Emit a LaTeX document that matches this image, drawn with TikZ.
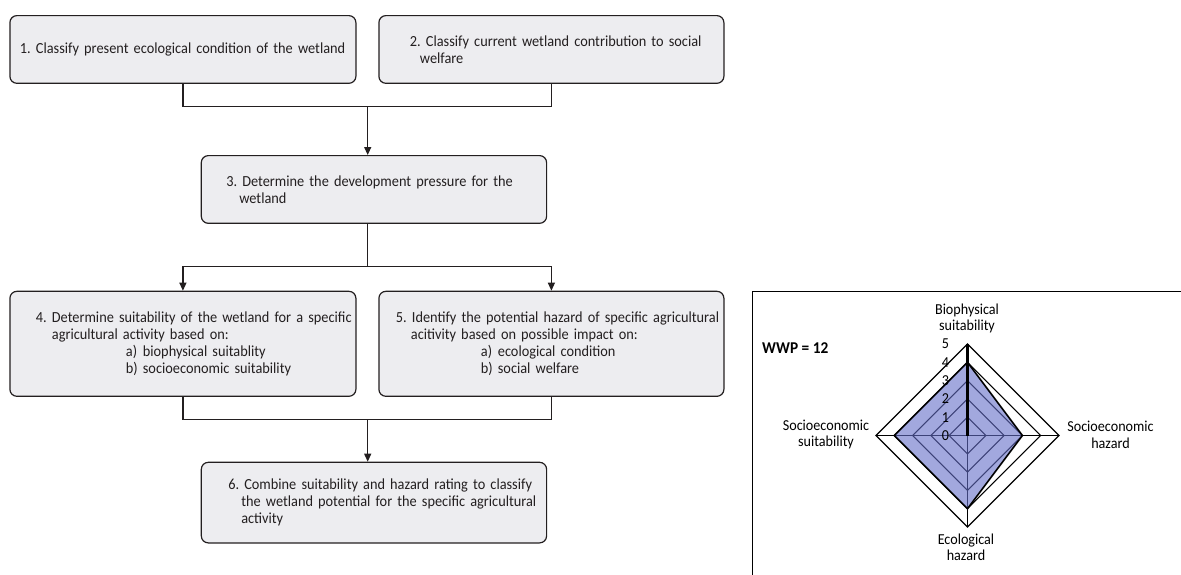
\documentclass[tikz,border=0pt]{standalone}
\usepackage{fontspec}
\setmainfont{Carlito}[FakeStretch=0.93]
\usetikzlibrary{arrows.meta,calc}
\definecolor{boxfill}{RGB}{237,237,240}
\definecolor{ink}{RGB}{35,31,32}
\definecolor{radarfill}{RGB}{100,110,200}
\newcommand{\tl}[2]{\mbox{\hspace*{#1pt}#2}}
\newcommand{\itm}[3]{\mbox{\hspace*{#1pt}\makebox[17pt][l]{#2}#3}}
\begin{document}
\frenchspacing
\begin{tikzpicture}[x=1pt,y=-1pt,
  flowbox/.style={draw=ink, line width=1.2pt, fill=boxfill, rounded corners=7pt,
    align=left, font=\fontsize{15.4}{17.2}\selectfont, text=ink, anchor=north west,
    inner sep=0pt},
  conn/.style={draw=ink, line width=1.2pt},
  arr/.style={conn, -{Triangle[width=7pt,length=8pt]}},
  lbl/.style={align=center, font=\fontsize{15.2}{16.7}\selectfont, text=black, inner sep=0pt},
  ticklbl/.style={font=\fontsize{15.2}{16}\selectfont, inner sep=0pt},
  grid/.style={draw=black, line width=1.1pt}
]
\useasboundingbox (0,0) rectangle (1181,574);

% ---------------- flow chart ----------------
\node[flowbox, minimum height=67.7pt, text width=346pt]
  (b1) at (9.3,15) {\tl{10}{1. Classify present ecological condition of the wetland}};
\node[flowbox, minimum height=67.7pt, text width=345pt]
  (b2) at (378.3,15) {\tl{31}{2. Classify current wetland contribution to social}\\\tl{41}{welfare}};
\node[flowbox, minimum height=67.7pt, text width=345.3pt]
  (b3) at (200.7,155) {\tl{25}{3. Determine the development pressure for the}\\\tl{38}{wetland}};
\node[flowbox, minimum height=105pt, text width=346pt]
  (b4) at (9.3,290.7) {\tl{26}{4. Determine suitability of the wetland for a specific}\\
  \tl{42}{agricultural activity based on:}\\
  \itm{116}{a)}{biophysical suitablity}\\
  \itm{116}{b)}{socioeconomic suitability}};
\node[flowbox, minimum height=105pt, text width=345pt]
  (b5) at (378.3,290.7) {\tl{17}{5. Identify the potential hazard of specific agricultural}\\
  \tl{32}{acitivity based on possible impact on:}\\
  \itm{102}{a)}{ecological condition}\\
  \itm{102}{b)}{social welfare}};
\node[flowbox, minimum height=80.6pt, text width=345.3pt]
  (b6) at (200.7,461.7) {\tl{27}{6. Combine suitability and hazard rating to classify}\\
  \tl{40}{the wetland potential for the specific agricultural}\\
  \tl{40}{activity}};

\coordinate (m1) at (367.7,106.4);
\coordinate (s1) at (367.7,266.7);
\coordinate (m2) at (367.7,419.3);

\draw[conn] (b1.south) |- (m1) -| (b2.south);
\draw[arr] (m1) -- (m1 |- b3.north);
\draw[conn] (s1 |- b3.south) -- (s1);
\draw[arr] (s1) -| (b4.north);
\draw[arr] (s1) -| (b5.north);
\draw[conn] (b4.south) |- (m2) -| (b5.south);
\draw[arr] (m2) -- (m2 |- b6.north);

% ---------------- radar chart ----------------
\draw[line width=1.3pt] (752.7,580) -- (752.7,291.7) -- (1190,291.7);

\coordinate (c) at (967.5,435.5);
\def\u{18.3}
\foreach \r in {1,...,5}{
  \draw[grid] ($(c)+(0,-\r*\u)$) -- ($(c)+(\r*\u,0)$) -- ($(c)+(0,\r*\u)$) -- ($(c)+(-\r*\u,0)$) -- cycle;
}
\draw[grid] ($(c)+(-5*\u,0)$) -- ($(c)+(5*\u,0)$);
\draw[grid] (c) -- ($(c)+(0,5*\u)$);
\fill[radarfill, fill opacity=0.6] ($(c)+(0,-4*\u)$) -- ($(c)+(3*\u,0)$) -- ($(c)+(0,4*\u)$) -- ($(c)+(-4*\u,0)$) -- cycle;
\draw[black, line width=1.6pt, line join=miter] ($(c)+(0,-4*\u)$) -- ($(c)+(3*\u,0)$) -- ($(c)+(0,4*\u)$) -- ($(c)+(-4*\u,0)$) -- cycle;
\draw[black, line width=2.6pt] (c) -- ($(c)+(0,-5*\u)$);

\foreach \r in {0,...,5}{
  \node[ticklbl] (t\r) at ($(c)+(-22,-\r*\u)$) {\r};
}

\node[lbl] (bio) at (967,318.5) {Biophysical\\suitability};
\node[lbl] (ssu) at (826,434.5) {Socioeconomic\\suitability};
\node[lbl] (shz) at (1110.5,434.5) {Socioeconomic\\hazard};
\node[lbl] (ehz) at (966,547.3) {Ecological\\hazard};
\node[font=\bfseries\fontsize{16.5}{18}\selectfont, anchor=west, inner sep=0pt] (wwp) at (762,348) {WWP = 12};
\end{tikzpicture}
\end{document}
